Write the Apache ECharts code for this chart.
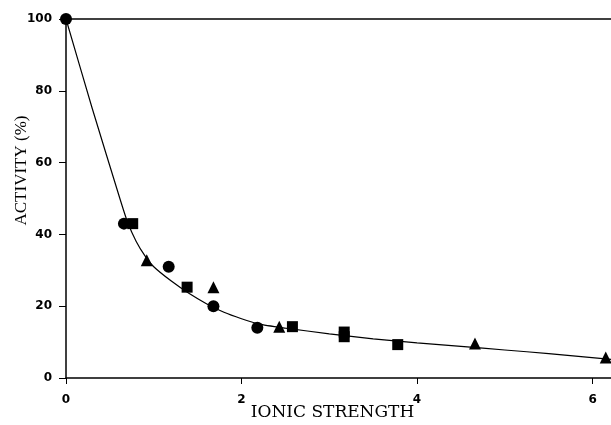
<!DOCTYPE html>
<html>
<head>
<meta charset="utf-8">
<script src="https://cdn.jsdelivr.net/npm/echarts@6/dist/echarts.min.js"></script>
<style>
	* { margin: 0; padding: 0; }
	body { background: #fff; }
	#chart { width: 611px; height: 425px; }
</style>
</head>
<body>
<div id="chart"></div>
<script>
	// measured points, [ionic strength, activity %]
	var circlePts = [[0, 100], [0.66, 43], [1.17, 31], [1.68, 20], [2.18, 14]];
	var squarePts = [[0.76, 43], [1.38, 25.3], [2.58, 14.3], [3.17, 12.8], [3.17, 11.5], [3.78, 9.3]];
	var trianglePts = [[0.92, 32.8], [1.68, 25.3], [2.43, 14.3], [4.66, 9.6], [6.15, 5.7]];
	// fitted curve
	var curvePts = [[0, 100], [0.3, 75], [0.62, 49.5], [0.7, 43.5], [0.8, 38], [0.9, 34], [1.0, 31],
		[1.2, 27], [1.4, 23.6], [1.6, 20.7], [1.8, 18.3], [2.0, 16.5], [2.2, 15], [2.5, 13.9],
		[3.0, 12.3], [3.5, 10.9], [4.0, 9.8], [4.5, 8.8], [5.0, 7.8], [5.5, 6.8], [6.21, 5.2]];

	var chart = echarts.init(document.getElementById('chart'));
	var labelFont = { color: '#000', fontFamily: 'DejaVu Sans', fontWeight: 'bold', fontSize: 12 };
	chart.setOption({
		animation: false,
		grid: { left: 66, right: 0, top: 19, bottom: 47, outerBoundsMode: 'none' },
		xAxis: {
			type: 'value', min: 0, max: 6.21, interval: 2,
			name: 'IONIC STRENGTH', nameLocation: 'middle', nameGap: 26, nameMoveOverlap: false,
			nameTextStyle: { color: '#000', fontFamily: 'DejaVu Serif', fontSize: 17, padding: [0, 12, 0, 0] },
			axisLine: { lineStyle: { color: '#000', width: 1.5 } },
			axisTick: { length: 6, lineStyle: { color: '#000' } },
			axisLabel: Object.assign({ margin: 16, showMaxLabel: false }, labelFont),
			splitLine: { show: false }
		},
		yAxis: {
			type: 'value', min: 0, max: 100, interval: 20,
			name: 'ACTIVITY (%)', nameLocation: 'middle', nameGap: 36, nameMoveOverlap: false,
			nameTextStyle: { color: '#000', fontFamily: 'Liberation Serif', fontSize: 17, padding: [0, 0, 0, 56] },
			axisLine: { show: true, lineStyle: { color: '#000', width: 1.5 } },
			axisTick: { show: true, length: 7, lineStyle: { color: '#000' } },
			axisLabel: Object.assign({ margin: 14 }, labelFont),
			splitLine: { show: false }
		},
		series: [
			{
				type: 'line', data: curvePts, smooth: 0.2, showSymbol: false,
				lineStyle: { color: '#000', width: 1.2 }, z: 1,
				markLine: {
					silent: true, symbol: 'none', label: { show: false },
					lineStyle: { color: '#000', type: 'solid', width: 1.5 },
					data: [{ yAxis: 100 }]
				}
			},
			{ type: 'scatter', data: circlePts, symbol: 'circle', symbolSize: 12, itemStyle: { color: '#000', opacity: 1 }, z: 3 },
			{ type: 'scatter', data: squarePts, symbol: 'rect', symbolSize: 11, itemStyle: { color: '#000', opacity: 1 }, z: 3 },
			{ type: 'scatter', data: trianglePts, symbol: 'triangle', symbolSize: 12, itemStyle: { color: '#000', opacity: 1 }, z: 3 }
		]
	});
</script>
</body>
</html>
